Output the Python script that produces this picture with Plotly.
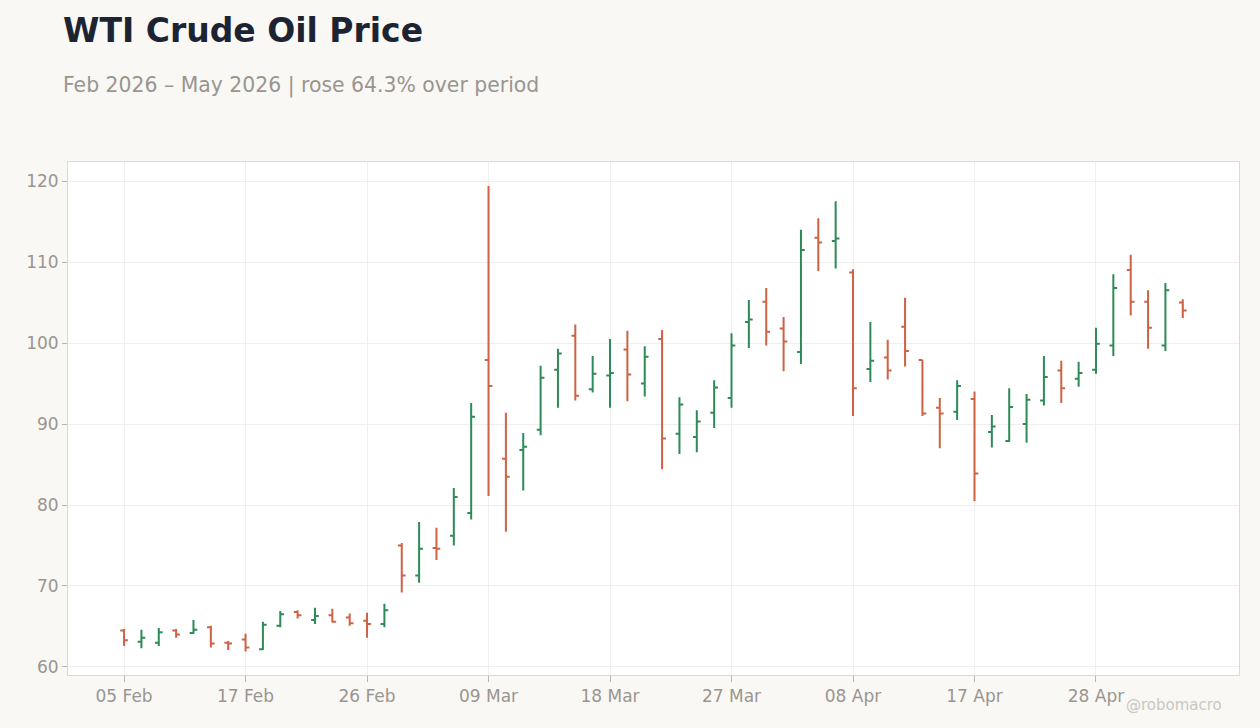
import pandas as pd
import plotly.graph_objects as go

# trading days (weekends, Presidents Day and Good Friday excluded)
all_days = pd.bdate_range("2026-02-05", "2026-05-05")
holidays = pd.to_datetime(["2026-02-16", "2026-04-03"])
dates = [d.strftime("%Y-%m-%d") for d in all_days if d not in holidays]

open_ = [64.5, 63.1, 63.0, 64.5, 64.2, 64.9, 63.0, 63.4, 62.2, 65.1,
         66.8, 65.8, 66.4, 66.1, 65.7, 65.3, 75.0, 71.3, 74.7, 76.2,
         79.0, 97.9, 85.7, 86.8, 89.3, 96.7, 100.9, 94.3, 96.0, 99.2,
         95.0, 100.5, 88.8, 88.4, 91.4, 93.2, 102.6, 105.1, 101.8, 98.9,
         113.0, 112.6, 108.7, 96.8, 98.2, 102.0, 97.9, 92.0, 91.5, 93.1,
         89.0, 87.9, 90.0, 92.9, 96.6, 95.6, 96.7, 99.7, 109.0, 105.1,
         99.7, 105.0]
high = [64.7, 64.6, 64.8, 64.7, 65.8, 65.1, 63.2, 64.1, 65.6, 66.9,
        67.0, 67.3, 67.2, 66.6, 66.7, 67.8, 75.3, 77.9, 77.2, 82.1,
        92.6, 119.4, 91.4, 88.9, 97.2, 99.3, 102.3, 98.4, 100.5, 101.5,
        99.6, 101.6, 93.3, 91.7, 95.4, 101.2, 105.3, 106.8, 103.2, 114.0,
        115.4, 117.5, 109.1, 102.6, 100.4, 105.6, 97.9, 93.2, 95.4, 94.0,
        91.1, 94.4, 93.7, 98.4, 97.8, 97.7, 101.9, 108.5, 110.9, 106.5,
        107.4, 105.4]
low = [62.6, 62.3, 62.6, 63.6, 64.1, 62.4, 62.1, 61.9, 62.1, 64.9,
       66.0, 65.3, 65.5, 65.1, 63.6, 64.9, 69.2, 70.4, 73.2, 75.0,
       78.2, 81.1, 76.7, 81.8, 88.6, 92.0, 92.9, 93.9, 92.0, 92.8,
       93.4, 84.4, 86.3, 86.5, 89.5, 92.0, 99.4, 99.7, 96.5, 97.4,
       108.9, 109.2, 91.0, 95.2, 95.5, 97.1, 91.0, 87.0, 90.5, 80.5,
       87.1, 87.8, 87.7, 92.3, 92.6, 94.6, 96.2, 98.4, 103.4, 99.3,
       99.0, 103.1]
close = [63.3, 63.6, 64.3, 64.0, 64.6, 62.9, 62.9, 62.4, 65.2, 66.5,
         66.4, 66.3, 65.6, 65.4, 65.3, 67.0, 71.3, 74.6, 74.6, 81.0,
         90.9, 94.7, 83.5, 87.2, 95.7, 98.7, 93.5, 96.2, 96.3, 96.1,
         98.3, 88.2, 92.4, 90.3, 94.5, 99.7, 102.9, 101.4, 100.2, 111.5,
         112.4, 112.9, 94.4, 97.8, 96.6, 99.0, 91.3, 91.3, 94.7, 83.9,
         89.7, 92.1, 93.0, 95.8, 94.4, 96.3, 99.9, 106.8, 105.1, 101.9,
         106.5, 104.0]

tick_dates = ["2026-02-05", "2026-02-17", "2026-02-26", "2026-03-09", "2026-03-18",
              "2026-03-27", "2026-04-08", "2026-04-17", "2026-04-28"]
tick_labels = ["05 Feb", "17 Feb", "26 Feb", "09 Mar", "18 Mar",
               "27 Mar", "08 Apr", "17 Apr", "28 Apr"]
y_ticks = [60, 70, 80, 90, 100, 110, 120]

GREEN = "#2e8b57"
RED = "#cd6244"
FONT = "DejaVu Sans"

fig = go.Figure(go.Ohlc(
    x=dates, open=open_, high=high, low=low, close=close,
    increasing=dict(line=dict(color=GREEN, width=2)),
    decreasing=dict(line=dict(color=RED, width=2)),
    tickwidth=0.22,
    showlegend=False,
))

fig.update_layout(
    width=1260, height=728,
    margin=dict(l=68, r=21, t=162, b=53),
    paper_bgcolor="#f9f8f5",
    plot_bgcolor="#ffffff",
    font=dict(family=FONT, color="#9a958f", size=17),
    xaxis=dict(
        type="category",
        range=[-3.23, 64.24],
        tickmode="array", tickvals=tick_dates, ticktext=tick_labels,
        showgrid=True, gridcolor="#f0efed", gridwidth=1,
        ticks="outside", ticklen=6, tickcolor="#b9b4ad",
        showline=True, linecolor="#ddd8d0", linewidth=1, mirror=True,
        rangeslider=dict(visible=False),
        tickfont=dict(size=17, color="#9a958f"),
        zeroline=False,
    ),
    yaxis=dict(
        range=[59.01, 122.35],
        tickmode="array", tickvals=y_ticks,
        showgrid=True, gridcolor="#f0efed", gridwidth=1,
        ticks="outside", ticklen=5, tickcolor="#b9b4ad",
        showline=True, linecolor="#ddd8d0", linewidth=1, mirror=True,
        tickfont=dict(size=17, color="#9a958f"),
        zeroline=False,
    ),
    annotations=[
        dict(text="<b>WTI Crude Oil Price</b>", xref="paper", yref="paper",
             x=(61 - 68) / 1171, y=(675 - 30) / 513, xanchor="left", yanchor="middle",
             showarrow=False, font=dict(family=FONT, size=33, color="#1c2333")),
        dict(text="Feb 2026 \u2013 May 2026 | rose 64.3% over period", xref="paper", yref="paper",
             x=(61 - 68) / 1171, y=(675 - 85.5) / 513, xanchor="left", yanchor="middle",
             showarrow=False, font=dict(family=FONT, size=20.4, color="#9a958f")),
        dict(text="@robomacro", xref="paper", yref="paper",
             x=(1224 - 68) / 1171, y=(675 - 705) / 513, xanchor="right", yanchor="middle",
             showarrow=False, font=dict(family=FONT, size=15, color="#cbc7c1")),
    ],
)

fig.write_html("out.html")
